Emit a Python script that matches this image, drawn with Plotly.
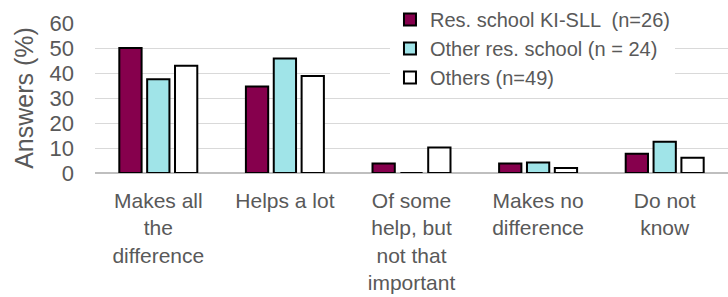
import plotly.graph_objects as go

categories = ["Makes all<br>the<br>difference", "Helps a lot",
              "Of some<br>help, but<br>not that<br>important",
              "Makes no<br>difference", "Do not<br>know"]
series_names = ["Res. school KI-SLL  (n=26)", "Other res. school (n = 24)", "Others (n=49)"]
ki_sll = [50.0, 34.6, 3.8, 3.8, 7.7]
other_res = [37.5, 45.8, 0.0, 4.2, 12.5]
others = [42.9, 38.8, 10.2, 2.0, 6.1]
y_ticks = [0, 10, 20, 30, 40, 50, 60]

colors = ["#86004D", "#A0E4E8", "#FFFFFF"]
txt = "#595959"
font_family = "Liberation Sans, Arial, sans-serif"

fig = go.Figure()
for name, vals, col in zip(series_names, [ki_sll, other_res, others], colors):
    fig.add_trace(go.Bar(x=categories, y=vals, name=name,
                         marker=dict(color=col, line=dict(color="#000000", width=2))))

fig.update_layout(
    width=728, height=297,
    margin=dict(l=95, r=0, t=23, b=124, autoexpand=False),
    paper_bgcolor="white", plot_bgcolor="white",
    barmode="group", bargap=0.34, bargroupgap=0.2,
    font=dict(family=font_family, color=txt, size=21),
    showlegend=True,
    legend=dict(x=0.466, y=1.153, xanchor="left", yanchor="top",
                bgcolor="white", borderwidth=0,
                font=dict(size=20, color=txt), tracegroupgap=0,
                itemwidth=30),
)
fig.update_yaxes(range=[0, 60], tickvals=y_ticks, showgrid=True, automargin=False,
                 gridcolor="#D9D9D9", gridwidth=1,
                 zeroline=True, zerolinecolor="#BFBFBF", zerolinewidth=1.5,
                 showline=False, ticks="", ticklabelstandoff=20,
                 tickfont=dict(size=22, color=txt),
                 title=dict(text="Answers (%)", font=dict(size=25, color=txt), standoff=8))
fig.update_xaxes(showline=False, ticks="", tickangle=0, automargin=False,
                 tickfont=dict(size=21, color=txt), ticklabelstandoff=13)

fig.write_html("out.html", config={"displayModeBar": False},
               post_script="document.body.style.margin='0';")
